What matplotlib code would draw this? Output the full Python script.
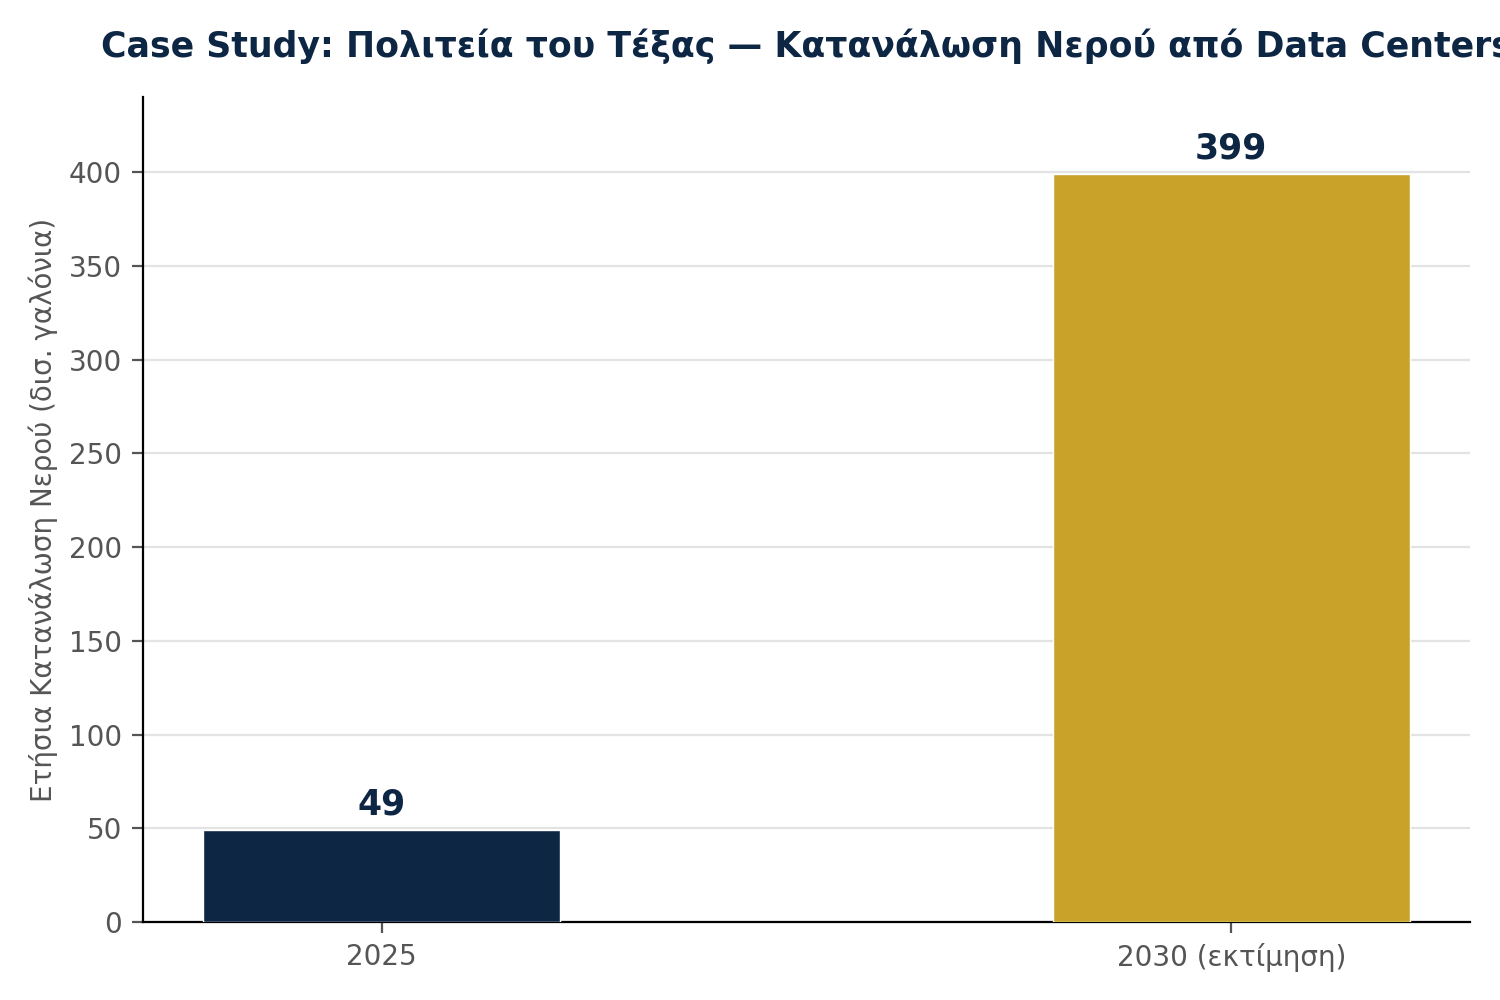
import matplotlib
matplotlib.use("Agg")
import matplotlib.pyplot as plt

categories = ["2025", "2030 (εκτίμηση)"]
values = [49, 399]
bar_colors = ["#0D2644", "#C9A22A"]
title = "Case Study: Πολιτεία του Τέξας — Κατανάλωση Νερού από Data Centers"
ylabel = "Ετήσια Κατανάλωση Νερού (δισ. γαλόνια)"
yticks = [0, 50, 100, 150, 200, 250, 300, 350, 400]

plt.rcParams['font.family'] = ['DejaVu Sans']

fig = plt.figure(figsize=(7.5, 5), dpi=200)
ax = fig.add_axes([0.0953, 0.078, 0.8847, 0.825])

x = list(range(len(categories)))
bars = ax.bar(x, values, width=0.42, color=bar_colors, edgecolor="white", linewidth=0.5, zorder=3)
ax.set_xticks(x)
ax.set_xticklabels(categories)
ax.set_ylim(0, 440)
ax.set_yticks(yticks)

for xi, v in zip(x, values):
    ax.annotate(f"{v}", (xi, v), xytext=(0, 3), textcoords="offset points",
                ha="center", va="bottom", fontsize=12.5, fontweight="bold", color="#0D2644")

ax.set_title(title, fontsize=12.5, fontweight="bold", color="#0D2644", pad=14.5)
ax.set_ylabel(ylabel, fontsize=10, color="#555555")

ax.grid(axis="y", color="#E3E3E3", linewidth=0.8, zorder=0)
ax.set_axisbelow(True)
for s in ["top", "right"]:
    ax.spines[s].set_visible(False)
for s in ["left", "bottom"]:
    ax.spines[s].set_color("black")
    ax.spines[s].set_linewidth(0.8)
ax.tick_params(axis="both", labelsize=10, colors="#555555", length=4, width=0.8)

fig.savefig("out.png", dpi=200)
